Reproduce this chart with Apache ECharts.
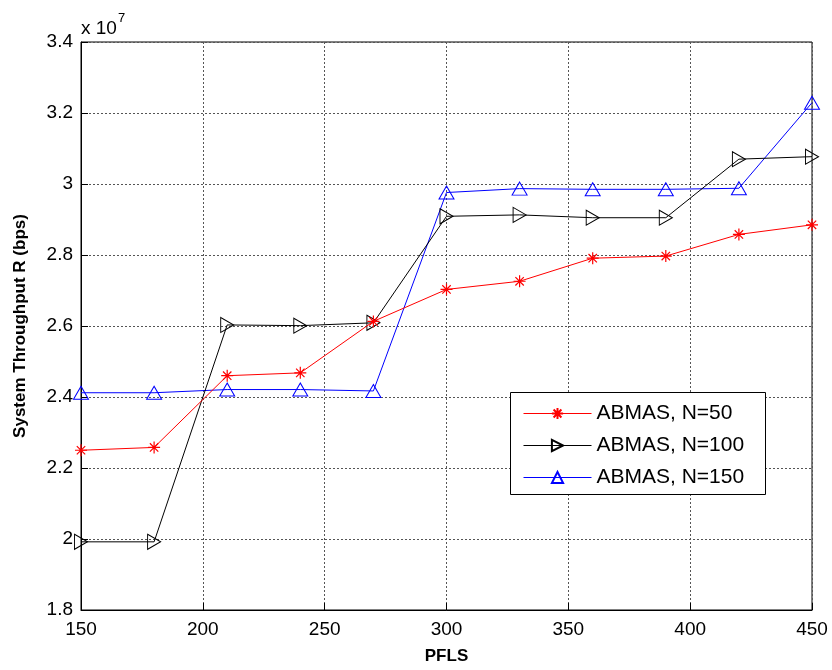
<!DOCTYPE html>
<html><head><meta charset="utf-8">
<script src="https://cdn.jsdelivr.net/npm/echarts@6/dist/echarts.min.js"></script>
<style>html,body{margin:0;padding:0;background:#fff}#c{width:832px;height:670px}</style>
</head><body><div id="c"></div>
<script>
const pfls = [150, 180, 210, 240, 270, 300, 330, 360, 390, 420, 450];
// System throughput in units of 1e7 bps
const n50  = [2.250, 2.258, 2.460, 2.468, 2.613, 2.703, 2.726, 2.791, 2.797, 2.858, 2.885];
const n100 = [1.992, 1.992, 2.603, 2.601, 2.609, 2.909, 2.913, 2.905, 2.905, 3.070, 3.077];
const n150 = [2.412, 2.412, 2.421, 2.421, 2.417, 2.976, 2.987, 2.985, 2.985, 2.988, 3.229];
const names = ['ABMAS, N=50', 'ABMAS, N=100', 'ABMAS, N=150'];

const font = 'Liberation Sans, Arial, sans-serif';
const asterisk = 'path://M5,0 L5,10 M0,5 L10,5 M1.5,1.5 L8.5,8.5 M1.5,8.5 L8.5,1.5';
const rtri = 'path://M0,0 L13,7.5 L0,15 Z';
const utri = 'path://M7.5,0 L15,13 L0,13 Z';

function pairs(v){ return pfls.map((x,i)=>[x, v[i]]); }

const chart = echarts.init(document.getElementById('c'));
chart.setOption({
  animation: false,
  backgroundColor: '#fff',
  grid: {left: 81, right: 20, top: 42, bottom: 58, show: true, borderColor: '#000', borderWidth: 1},
  xAxis: {
    type: 'value', min: 150, max: 450, interval: 50,
    name: 'PFLS', nameLocation: 'middle', nameGap: 38,
    nameTextStyle: {fontFamily: font, fontSize: 17, fontWeight: 'bold', color: '#000'},
    axisLine: {lineStyle: {color: '#000'}},
    axisTick: {inside: true, length: 7, lineStyle: {color: '#000'}},
    axisLabel: {fontFamily: font, fontSize: 19, color: '#000', margin: 10},
    splitLine: {show: true, lineStyle: {color: '#555', type: [2, 2], width: 1}}
  },
  yAxis: {
    type: 'value', min: 1.8, max: 3.4, interval: 0.2,
    name: 'System Throughput R (bps)', nameLocation: 'middle', nameGap: 52,
    nameTextStyle: {fontFamily: font, fontSize: 17, fontWeight: 'bold', color: '#000'},
    axisLine: {lineStyle: {color: '#000'}},
    axisTick: {inside: true, length: 7, lineStyle: {color: '#000'}},
    axisLabel: {fontFamily: font, fontSize: 19, color: '#000', margin: 8,
      formatter: v => String(Math.round(v*10)/10)},
    splitLine: {show: true, lineStyle: {color: '#555', type: [2, 2], width: 1}}
  },
  legend: {
    left: 523, top: 403, orient: 'vertical', z: 10,
    padding: 0, itemGap: 11,
    itemWidth: 68, itemHeight: 14,
    lineStyle: {width: 1},
    textStyle: {fontFamily: font, fontSize: 21, lineHeight: 20, color: '#000'},
    data: names
  },
  graphic: [
    {
      type: 'rect', left: 510, top: 392, z: 5,
      shape: {width: 255, height: 102},
      style: {fill: '#fff', stroke: '#000', lineWidth: 1}
    },
    {
      type: 'text', left: 81, top: 12,
      style: {
        text: '{a|x 10}{b|7}', fontFamily: font,
        rich: {
          a: {fontSize: 19, fontFamily: font, fill: '#000', verticalAlign: 'bottom', lineHeight: 26},
          b: {fontSize: 13, fontFamily: font, fill: '#000', verticalAlign: 'top', lineHeight: 26, padding: [0,0,14,1]}
        }
      }
    }
  ],
  series: [
    {name: names[0], type: 'line', data: pairs(n50), symbol: asterisk, symbolSize: 12,
     lineStyle: {color: '#ff0000', width: 1}, itemStyle: {color: '#ff0000', borderColor: '#ff0000', borderWidth: 1.2}, z: 3},
    {name: names[1], type: 'line', data: pairs(n100), symbol: rtri, symbolSize: [13, 15],
     lineStyle: {color: '#000', width: 1}, itemStyle: {color: 'rgba(0,0,0,0)', borderColor: '#000', borderWidth: 1}, z: 2},
    {name: names[2], type: 'line', data: pairs(n150), symbol: utri, symbolSize: [15, 13],
     lineStyle: {color: '#0000ff', width: 1}, itemStyle: {color: 'rgba(0,0,0,0)', borderColor: '#0000ff', borderWidth: 1}, z: 1}
  ]
});
</script>
</body></html>
